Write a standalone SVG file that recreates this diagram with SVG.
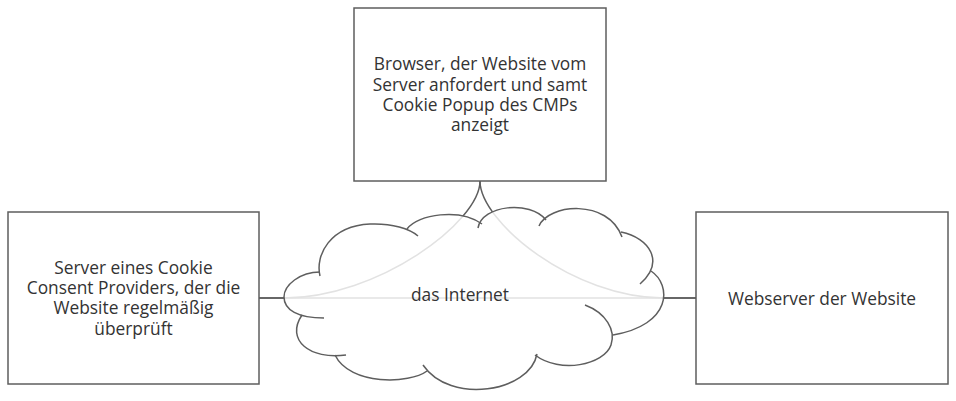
<svg xmlns="http://www.w3.org/2000/svg" width="956" height="401" viewBox="0 0 956 401">
<style>
.box{fill:#ffffff;stroke:#5e5e5e;stroke-width:1.5}
.lbl{font-family:"Open Sans","Liberation Sans",sans-serif;font-size:17.33px;fill:#333333;text-anchor:middle}
.edge{fill:none;stroke:#5e5e5e;stroke-width:1.5}
.cloudfill{fill:#ffffff;fill-opacity:0.82;stroke:none}
.cloudline{fill:none;stroke:#5e5e5e;stroke-width:1.5}
</style>
<rect width="956" height="401" fill="#ffffff"/>
<g id="connectors">
<path class="edge" d="M480,181 C480,222 378,298 284,298 L259,298"/>
<path class="edge" d="M480,181 C480,222 573,298 664,298 L696,298"/>
<path class="edge" d="M259,298 L696,298"/>
</g>
<g id="cloud">
<path class="cloudfill" d="M320,276 C315,255 330,226 370,224 C392,223 410,229 418,236 L407,229 C418,214 460,208 482,224 L478,228 C482,205 530,200 546,220 L539,226 C548,204 608,198 622,237 L621,232 C650,238 665,262 640,284 L651,271 C672,285 672,325 613,335 L585,305 C606,313 616,330 611,345 C604,365 560,374 535,355 L537,354 C530,392 450,405 423,365 L427,371 C410,384 350,386 335,355 L346,355 C310,360 285,340 302,315 L324,318 C298,318 284,310 284,297 C284,285 300,272 320,272 Z"/>
<path class="cloudline" d="M320,272 C300,272 284,285 284,297 C284,310 298,318 324,318"/>
<path class="cloudline" d="M320,276 C315,255 330,226 370,224 C392,223 410,229 418,236"/>
<path class="cloudline" d="M407,229 C418,214 460,208 482,224"/>
<path class="cloudline" d="M478,228 C482,205 530,200 546,220"/>
<path class="cloudline" d="M539,226 C548,204 608,198 622,237"/>
<path class="cloudline" d="M621,232 C650,238 665,262 640,284"/>
<path class="cloudline" d="M651,271 C672,285 672,325 613,335"/>
<path class="cloudline" d="M585,305 C606,313 616,330 611,345 C604,365 560,374 535,355"/>
<path class="cloudline" d="M537,354 C530,392 450,405 423,365"/>
<path class="cloudline" d="M427,371 C410,384 350,386 335,355"/>
<path class="cloudline" d="M346,355 C310,360 285,340 302,315"/>
<text class="lbl" x="460" y="301">das Internet</text>
</g>
<g id="browser">
<rect class="box" x="354" y="8" width="252" height="173"/>
<text class="lbl" y="70.2"><tspan x="480">Browser, der Website vom</tspan><tspan x="480" dy="20.33">Server anfordert und samt</tspan><tspan x="480" dy="20.33">Cookie Popup des CMPs</tspan><tspan x="480" dy="20.33">anzeigt</tspan></text>
</g>
<g id="cmp-server">
<rect class="box" x="8" y="212" width="251" height="172"/>
<text class="lbl" y="273.5"><tspan x="133.5">Server eines Cookie</tspan><tspan x="133.5" dy="20.4">Consent Providers, der die</tspan><tspan x="133.5" dy="20.4">Website regelmäßig</tspan><tspan x="133.5" dy="20.4">überprüft</tspan></text>
</g>
<g id="webserver">
<rect class="box" x="696" y="212" width="252" height="172"/>
<text class="lbl" x="822" y="305">Webserver der Website</text>
</g>
</svg>
